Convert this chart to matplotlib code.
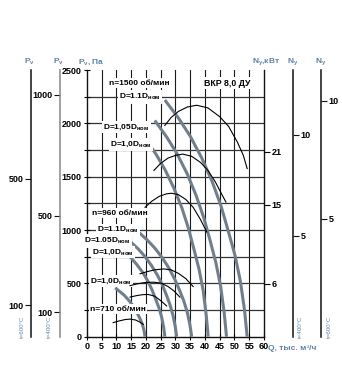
import matplotlib
matplotlib.use("Agg")
import matplotlib.pyplot as plt

plt.rcParams['font.family'] = ['Liberation Sans', 'DejaVu Sans']
plt.rcParams['mathtext.fontset'] = 'custom'
plt.rcParams['mathtext.rm'] = 'Liberation Sans'
plt.rcParams['mathtext.it'] = 'Liberation Sans:italic'
plt.rcParams['mathtext.bf'] = 'Liberation Sans:bold'
plt.rcParams['mathtext.default'] = 'regular'

# ---- data ----
q_ticks = [0, 5, 10, 15, 20, 25, 30, 35, 40, 45, 50, 55, 60]
p_ticks = [0, 500, 1000, 1500, 2000, 2500]
n_ticks = [6, 15, 21]
pv400_ticks = [100, 500, 1000]
pv600_ticks = [100, 500]
ny400_ticks = [5, 10]
ny600_ticks = [5, 10]

# pressure curves (Q, тыс. м3/ч ; Pv, Па)
q_1500_d110 = [26.4, 31.0, 35.0, 39.0, 42.5, 45.5, 48.0, 50.2, 52.0, 53.4, 54.3]
p_1500_d110 = [2219, 2050, 1880, 1670, 1450, 1220, 980, 760, 520, 250, 0]
q_1500_d105 = [23.0, 27.0, 30.5, 34.0, 37.0, 39.6, 41.8, 43.7, 45.3, 46.5, 47.3]
p_1500_d105 = [2027, 1873, 1717, 1526, 1324, 1115, 896, 693, 474, 229, 0]
q_1500_d100 = [20.0, 23.5, 26.5, 29.5, 32.2, 34.4, 36.3, 38.0, 39.4, 40.4, 41.1]
p_1500_d100 = [1847, 1707, 1564, 1391, 1206, 1016, 816, 632, 432, 209, 0]
q_960_d110 = [17.3, 20.3, 22.9, 25.5, 27.8, 29.7, 31.4, 32.8, 34.0, 34.9, 35.5]
p_960_d110 = [985, 910, 834, 742, 643, 542, 435, 337, 230, 111, 0]
q_960_d105 = [14.8, 17.4, 19.6, 21.8, 23.8, 25.5, 26.9, 28.1, 29.1, 29.9, 30.4]
p_960_d105 = [890, 822, 754, 670, 581, 490, 393, 304, 208, 101, 0]
q_960_d100 = [12.8, 15.1, 17.0, 19.0, 20.7, 22.1, 23.3, 24.4, 25.3, 26.0, 26.4]
p_960_d100 = [795, 735, 673, 599, 519, 437, 351, 272, 186, 90, 0]
q_710_d100 = [9.6, 11.2, 12.7, 14.1, 15.4, 16.5, 17.4, 18.2, 18.9, 19.4, 19.7]
p_710_d100 = [457, 422, 387, 344, 298, 251, 202, 156, 107, 52, 0]

# power curves (Q ; Ny, кВт)
qn_1500_d110 = [26.4, 28.5, 31, 34, 37.2, 41, 45, 48, 51, 53, 54.3]
n_1500_d110 = [24.0, 24.9, 25.6, 26.1, 26.3, 26.0, 25.0, 23.9, 22.1, 20.6, 19.1]
qn_1500_d105 = [22.7, 25, 27.5, 30, 32.5, 35.5, 38.5, 41, 43.5, 45.5, 47.1]
n_1500_d105 = [18.9, 19.7, 20.3, 20.6, 20.75, 20.5, 19.8, 18.9, 17.6, 16.3, 15.3]
qn_1500_d100 = [19.7, 22, 24.5, 27, 28.7, 31, 33.5, 36, 38.5, 40.6]
n_1500_d100 = [14.7, 15.4, 15.95, 16.24, 16.3, 16.14, 15.6, 14.7, 13.3, 11.9]
qn_960_d110 = [18.0, 20.5, 23, 26, 28.5, 31, 33.5, 36.0]
n_960_d110 = [7.15, 7.4, 7.6, 7.7, 7.6, 7.2, 6.6, 5.7]
qn_960_d105 = [14.6, 17, 19.5, 22.5, 25, 27.5, 29.5, 31.5]
n_960_d105 = [5.8, 6.0, 6.15, 6.2, 6.1, 5.7, 5.2, 4.5]
qn_960_d100 = [14.6, 17, 19, 20.8, 23, 25, 27]
n_960_d100 = [4.5, 4.68, 4.78, 4.8, 4.6, 4.1, 3.5]
qn_710_d100 = [8.9, 11, 13, 14.6, 16.5, 18, 19.1]
n_710_d100 = [1.6, 1.8, 1.95, 2.0, 1.9, 1.65, 1.4]

pressure_curves = [
    (q_1500_d110, p_1500_d110), (q_1500_d105, p_1500_d105), (q_1500_d100, p_1500_d100),
    (q_960_d110, p_960_d110), (q_960_d105, p_960_d105), (q_960_d100, p_960_d100),
    (q_710_d100, p_710_d100),
]
power_curves = [
    (qn_1500_d110, n_1500_d110), (qn_1500_d105, n_1500_d105), (qn_1500_d100, n_1500_d100),
    (qn_960_d110, n_960_d110), (qn_960_d105, n_960_d105), (qn_960_d100, n_960_d100),
    (qn_710_d100, n_710_d100),
]

# ---- layout ----
W, H = 342, 382
x0, x1 = 86.9, 264.0
y_bot, y_top = 336.7, 70.0
blue = '#5f82a8'
gray_curve = '#727f8a'

fig = plt.figure(figsize=(W / 100, H / 100), dpi=100)
ax = fig.add_axes([x0 / W, 1 - y_bot / H, (x1 - x0) / W, (y_bot - y_top) / H])
ax.set_xlim(0, 60)
ax.set_ylim(0, 2500)

ax.spines['top'].set_visible(False)
for s in ['left', 'bottom', 'right']:
    ax.spines[s].set_linewidth(1.0)
    ax.spines[s].set_color('#111')

for q in q_ticks[1:-1]:
    ax.axvline(q, color='#1a1a1a', lw=0.8, zorder=1)
for p in range(250, 2500, 250):
    ax.axhline(p, color='#333', lw=0.9, zorder=1)

ax.set_xticks(q_ticks)
ax.set_yticks(p_ticks)
ax.set_yticks(range(250, 2500, 500), minor=True)
ax.tick_params(axis='both', which='both', direction='inout', length=5, width=0.8,
               labelsize=6.5, pad=1.5)
ax.tick_params(axis='y', which='minor', length=4)
ax.tick_params(axis='y', right=False)
for lab in ax.get_xticklabels() + ax.get_yticklabels():
    lab.set_fontweight('bold')

for q, p in pressure_curves:
    ax.plot(q, p, color=gray_curve, lw=2.2, solid_capstyle='butt',
            solid_joinstyle='round', zorder=3)

box = dict(facecolor='white', edgecolor='none', pad=1.0)
labels = [
    (17.6, 2378, 'n=1500 об/мин'),
    (18.0, 2247, 'D=1.1D$_{ном}$'),
    (13.3, 1966, 'D=1,05D$_{ном}$'),
    (14.9, 1802, 'D=1,0D$_{ном}$'),
    (11.2, 1157, 'n=960 об/мин'),
    (10.5, 1000, 'D=1.1D$_{ном}$'),
    (6.8, 897, 'D=1.05D$_{ном}$'),
    (8.8, 794, 'D=1,0D$_{ном}$'),
    (8.2, 522, 'D=1,0D$_{ном}$'),
    (10.5, 259, 'n=710 об/мин'),
]
for x, y, t in labels:
    ax.text(x, y, t, ha='center', va='center', fontsize=6, fontweight='bold',
            bbox=box, zorder=5, clip_on=False)
ax.text(47.4, 2378, 'ВКР 8,0 ДУ', ha='center', va='center', fontsize=6.3,
        fontweight='bold', bbox=box, zorder=5)

# ---- power axis (right spine) ----
n_top = (y_bot - y_top) / 8.8
axn = ax.twinx()
axn.set_ylim(0, n_top)
for s in axn.spines.values():
    s.set_visible(False)
axn.set_yticks(n_ticks)
axn.tick_params(axis='y', direction='out', length=4, width=0.8, labelsize=6.5, pad=1.5)
for lab in axn.get_yticklabels():
    lab.set_fontweight('bold')
for q, n in power_curves:
    axn.plot(q, n, color='black', lw=0.8, solid_joinstyle='round', zorder=3)

# ---- extra scales ----
def side_axis(pos_px, side, top, ticks, color):
    a = ax.twinx()
    a.set_ylim(0, top)
    for s in a.spines.values():
        s.set_visible(False)
    sp = a.spines[side]
    sp.set_visible(True)
    sp.set_position(('axes', (pos_px - x0) / (x1 - x0)))
    sp.set_color(color)
    sp.set_linewidth(1.1)
    a.yaxis.set_ticks_position(side)
    a.set_yticks(ticks)
    a.tick_params(axis='y', direction='out', length=4, width=0.8, labelsize=6.5,
                  pad=1.5, color='#111')
    for lab in a.get_yticklabels():
        lab.set_fontweight('bold')
    return a

side_axis(31, 'left', (y_bot - y_top) / 0.316, pv600_ticks, '#111')
side_axis(60, 'left', (y_bot - y_top) / 0.2422, pv400_ticks, '#888')
side_axis(293, 'right', (y_bot - y_top) / 20.2, ny400_ticks, '#111')
side_axis(321, 'right', (y_bot - y_top) / 23.6, ny600_ticks, '#111')

# ---- titles of scales ----
def ftext(px, py, s, **kw):
    fig.text(px / W, 1 - py / H, s, **kw)

ftext(29, 62, '$P_v$', color=blue, fontsize=6, fontweight='bold', ha='center', va='center')
ftext(58, 62, '$P_v$', color=blue, fontsize=6, fontweight='bold', ha='center', va='center')
ftext(78, 62, '$P_v$, Па', color=blue, fontsize=6, fontweight='bold', ha='left', va='center')
ftext(252, 62, '$N_у$,кВт', color=blue, fontsize=6, fontweight='bold', ha='left', va='center')
ftext(293, 62, '$N_у$', color=blue, fontsize=6, fontweight='bold', ha='center', va='center')
ftext(321, 62, '$N_у$', color=blue, fontsize=6, fontweight='bold', ha='center', va='center')
ftext(268, 348, 'Q, тыс. м³/ч', color=blue, fontsize=6, fontweight='bold', ha='left', va='center')

for px, t in [(22, 't=600°C'), (49, 't=400°C'), (300, 't=400°C'), (329, 't=600°C')]:
    ftext(px, 338.5, t, color=blue, fontsize=4.4, rotation=90, ha='center', va='bottom')

fig.savefig('out.png', dpi=100)
